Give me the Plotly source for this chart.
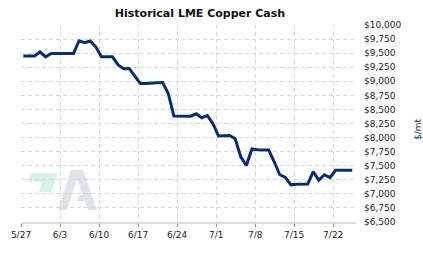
import pandas as pd
import plotly.graph_objects as go

# ---- data (daily LME copper cash, USD per metric tonne) ----
start_date = "2022-05-27 10:00"
prices = [
    9450, 9450, 9450, 9520, 9435, 9495, 9495, 9495, 9495, 9495,
    9720, 9685, 9715, 9612, 9435, 9435, 9435, 9292, 9222, 9225,
    9090, 8960, 8960, 8960, 8972, 8977, 8780, 8385, 8380, 8380,
    8380, 8423, 8352, 8390, 8250, 8030, 8036, 8036, 7980, 7656,
    7505, 7797, 7785, 7780, 7780, 7570, 7340, 7290, 7160, 7170,
    7175, 7175, 7393, 7245, 7340, 7290, 7420, 7420, 7420, 7420,
]
dates = pd.date_range(start_date, periods=len(prices), freq="D")

tick0 = "2022-05-27"
y_ticks = list(range(6500, 10001, 250))
y_tick_text = [f"${v:,}" for v in y_ticks]
y_title = "$/mt"

# ---- layout geometry (pixels) ----
W, H = 423, 257
ML, MR, MT, MB = 21, 67, 25, 35
PW, PH = W - ML - MR, H - MT - MB


def px(x, y):
    return (x - ML) / PW, (H - MB - y) / PH


def path(points):
    pts = [px(x, y) for x, y in points]
    return "M " + " L ".join(f"{a:.4f},{b:.4f}" for a, b in pts) + " Z"


fig = go.Figure()
fig.add_trace(go.Scatter(
    x=dates, y=prices, mode="lines",
    line=dict(color="#0b2c6b", width=3),
    hoverinfo="skip", showlegend=False,
))

# watermark logo
shapes = [
    dict(type="path", xref="paper", yref="paper", layer="below",
         path=path([(31, 173), (58, 173), (51, 192), (39, 192), (42, 182), (28, 182)]),
         fillcolor="#d7f3e9", line=dict(width=0)),
    dict(type="path", xref="paper", yref="paper", layer="below",
         path=path([(58, 210), (71, 170), (83, 170), (97, 210), (88, 210), (85, 201),
                    (77, 201), (79, 195), (83, 195), (77, 179), (67, 210)]),
         fillcolor="#e0e4ea", line=dict(width=0)),
]

tx, ty = px(418, 129)
annotations = [
    dict(text=y_title, xref="paper", yref="paper", x=tx, y=ty,
         xanchor="center", yanchor="middle", textangle=-90, showarrow=False,
         font=dict(family="DejaVu Sans", size=9, color="#222222")),
]

fig.update_layout(
    width=W, height=H,
    margin=dict(l=ML, r=MR, t=MT, b=MB, pad=0),
    paper_bgcolor="white", plot_bgcolor="white",
    font=dict(family="DejaVu Sans", size=9, color="#222222"),
    title=dict(text="<b>Historical LME Copper Cash</b>",
               font=dict(family="DejaVu Sans", size=11, color="#111111"),
               xref="container", yref="container",
               x=200 / W, y=1 - 13.5 / H, xanchor="center", yanchor="middle"),
    shapes=shapes,
    annotations=annotations,
    xaxis=dict(
        type="date",
        range=["2022-05-27", "2022-07-26 02:00"],
        tick0=tick0, dtick=7 * 86400000, tickformat="%-m/%-d",
        showgrid=True, gridcolor="#d6d6d6", griddash="4px,3px", gridwidth=1,
        showline=True, linecolor="#dcdcdc", linewidth=2,
        ticks="outside", ticklen=3, tickcolor="#9a9a9a", tickwidth=1,
        zeroline=False, fixedrange=True,
        tickfont=dict(size=9, color="#222222"),
    ),
    yaxis=dict(
        side="right", range=[6500, 10000],
        tickvals=y_ticks, ticktext=y_tick_text,
        showgrid=True, gridcolor="#d6d6d6", griddash="4px,3px", gridwidth=1,
        showline=False, ticks="", ticklabelstandoff=7,
        zeroline=False, fixedrange=True,
        tickfont=dict(size=9, color="#222222"),
    ),
)

fig.write_html("out.html", config={"displayModeBar": False})
